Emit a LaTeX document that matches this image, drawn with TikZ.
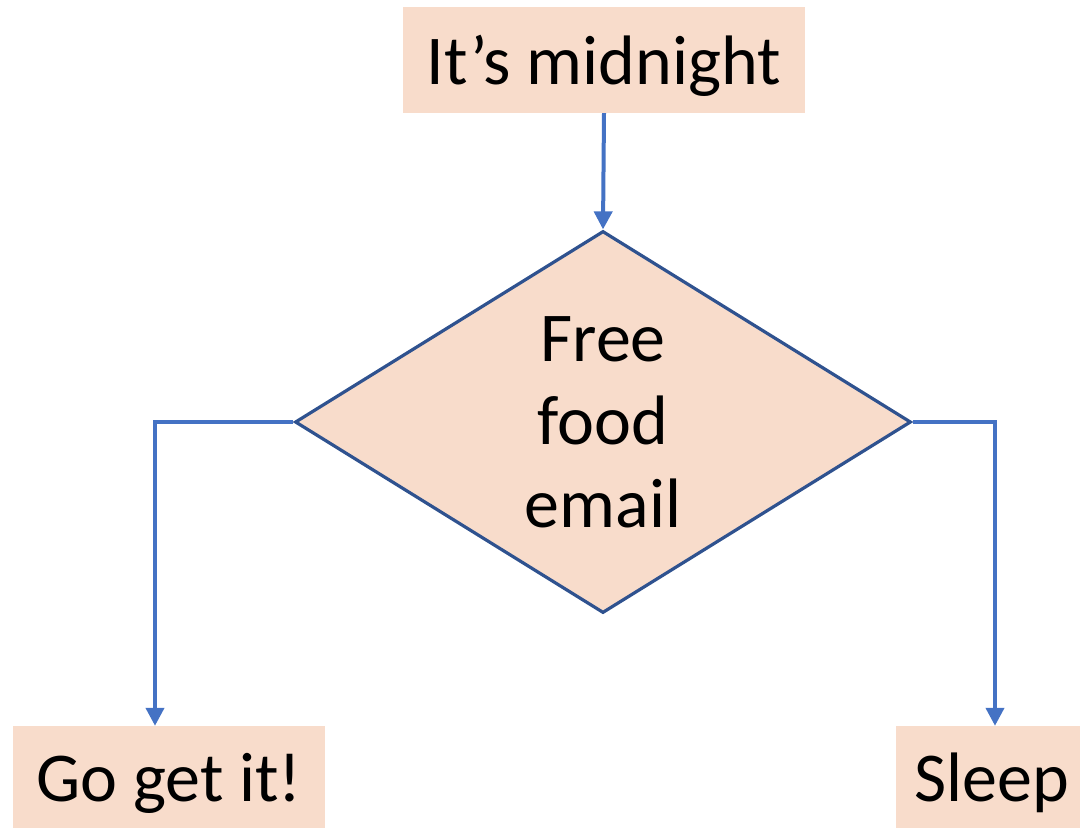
\documentclass[tikz,border=0pt]{standalone}
\usepackage{fontspec}
\setmainfont{Carlito}
\usetikzlibrary{shapes.geometric,arrows.meta}

\definecolor{peach}{HTML}{F8DCCB}
\definecolor{linkblue}{HTML}{4472C4}
\definecolor{edgeblue}{HTML}{2F528F}

\begin{document}
\begin{tikzpicture}[x=1pt,y=-1pt,
    box/.style={fill=peach,inner sep=0pt,text depth=0pt,font=\fontsize{70}{83}\selectfont,minimum height=102pt},
    ask/.style={diamond,draw=edgeblue,line width=3.2pt,fill=peach,inner sep=0pt,aspect=1.61,
        minimum width=616pt,minimum height=382pt,align=center,font=\fontsize{70}{83}\selectfont},
    link/.style={-{Triangle[width=18pt,length=18pt]},draw=linkblue,line width=4pt}]
            \useasboundingbox (0,0) rectangle (1080,828);

            \node[box,minimum width=402pt,minimum height=106pt] (1) at (604,60) {It’s midnight};
            \node[ask] (2) at (603,422) {Free\\food\\email};

            \node[box,minimum width=312pt] (3) at (169,777) {Go get it!};
            \node[box,minimum width=192pt] (4) at (992,777) {Sleep};

            \draw[link] (1.south) -- (2.north);
            \draw[link] (2.west) -| ([xshift=-14pt]3.north);
            \draw[link] (2.east) -| ([xshift=3pt]4.north);
        \end{tikzpicture}
\end{document}
